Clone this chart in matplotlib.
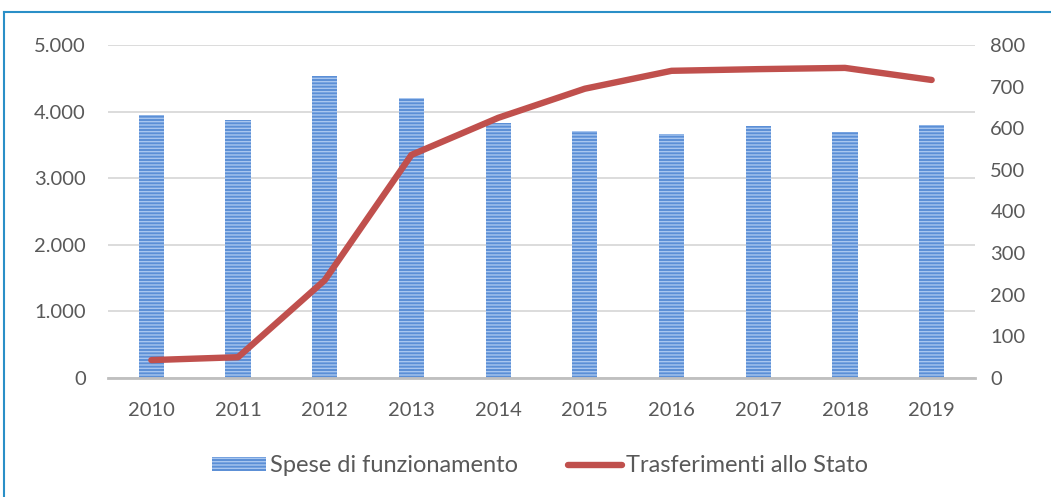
import matplotlib
matplotlib.use("Agg")
import matplotlib.pyplot as plt
from matplotlib.lines import Line2D
from matplotlib.ticker import FuncFormatter

years = ["2010", "2011", "2012", "2013", "2014", "2015", "2016", "2017", "2018", "2019"]
spese = [3950, 3875, 4535, 4205, 3830, 3710, 3665, 3785, 3695, 3800]
trasferimenti = [43, 50, 235, 536, 625, 695, 738, 742, 745, 716]
left_ticks = [0, 1000, 2000, 3000, 4000, 5000]
right_ticks = [0, 100, 200, 300, 400, 500, 600, 700, 800]

plt.rcParams['font.family'] = ['Lato', 'DejaVu Sans']
plt.rcParams['hatch.linewidth'] = 1.0

fig = plt.figure(figsize=(10.51, 4.97), dpi=100)
ax = fig.add_axes([108/1051, 1-378/497, (975-108)/1051, (378-45)/497])
ax2 = ax.twinx()

x = list(range(len(years)))
bars = ax.bar(x, spese, width=0.29, color='#5b8fd6', edgecolor='#a8c6ef',
              linewidth=0, hatch='-----', zorder=2, label='Spese di funzionamento')
ax.set_xlim(-0.5, len(years) - 0.5)
ax.set_ylim(0, 5000)
ax.set_yticks(left_ticks)
ax.yaxis.set_major_formatter(FuncFormatter(lambda v, p: f"{int(v):,}".replace(",", ".")))
ax.set_xticks(x)
ax.set_xticklabels(years)
ax.grid(axis='y', color='#d9d9d9', linewidth=1.3, zorder=0)
ax.set_axisbelow(True)
for s in ['top', 'left', 'right']:
    ax.spines[s].set_visible(False)
ax.spines['bottom'].set_color('#bfbfbf')
ax.spines['bottom'].set_linewidth(2)
ax.spines['bottom'].set_zorder(3)
ax.tick_params(axis='both', length=0, labelsize=14.5, colors='#595959')
ax.tick_params(axis='x', pad=17)
ax.tick_params(axis='y', pad=16)

line, = ax2.plot(x, trasferimenti, color='#c0504d', linewidth=4.6,
                 solid_capstyle='round', solid_joinstyle='round', zorder=4,
                 label='Trasferimenti allo Stato')
ax2.set_ylim(0, 800)
ax2.set_yticks(right_ticks)
for s in ['top', 'left', 'right', 'bottom']:
    ax2.spines[s].set_visible(False)
ax2.tick_params(axis='y', length=0, labelsize=14.5, colors='#595959', pad=11)

leg = fig.legend([bars, line], ['Spese di funzionamento', 'Trasferimenti allo Stato'],
                 loc='center', bbox_to_anchor=(540/1051, 1-466/497), ncol=2,
                 frameon=False, fontsize=17, handlelength=2.3, handleheight=0.55,
                 columnspacing=2.1, handletextpad=0.17)
for t in leg.get_texts():
    t.set_color('#595959')

# figure frame (blue border)
fig.add_artist(Line2D([4/1051, 1.0], [1-12/497, 1-12/497], color='#2a8fc7', linewidth=1.5,
                      transform=fig.transFigure))
fig.add_artist(Line2D([4/1051, 4/1051], [0, 1-12/497], color='#2a8fc7', linewidth=1.5,
                      transform=fig.transFigure))

fig.savefig("out.png", dpi=100)
